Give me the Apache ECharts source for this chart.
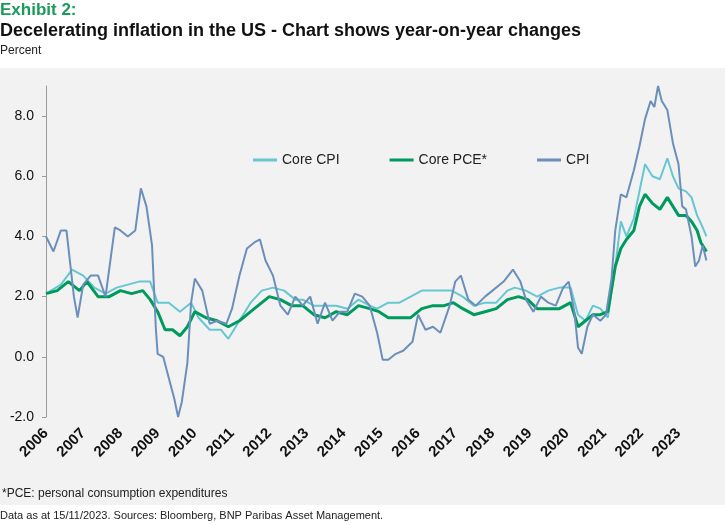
<!DOCTYPE html>
<html><head><meta charset="utf-8">
<script src="https://cdn.jsdelivr.net/npm/echarts@6/dist/echarts.min.js"></script>
<style>html,body{margin:0;padding:0;background:#fff}#c{width:725px;height:525px}</style>
</head><body><div id="c"></div>
<script>
const cpi = [[2006.0,4.0],[2006.2,3.5],[2006.4,4.2],[2006.55,4.2],[2006.75,2.0],[2006.85,1.3],[2007.0,2.4],[2007.2,2.7],[2007.4,2.7],[2007.6,2.0],[2007.85,4.3],[2008.0,4.2],[2008.2,4.0],[2008.4,4.2],[2008.55,5.6],[2008.7,5.0],[2008.85,3.7],[2008.95,1.0],[2009.0,0.1],[2009.15,0.0],[2009.3,-0.7],[2009.45,-1.4],[2009.55,-2.0],[2009.65,-1.5],[2009.8,-0.2],[2009.9,1.8],[2010.0,2.6],[2010.2,2.2],[2010.4,1.1],[2010.6,1.2],[2010.85,1.1],[2011.0,1.6],[2011.2,2.7],[2011.4,3.6],[2011.6,3.8],[2011.75,3.9],[2011.9,3.2],[2012.1,2.7],[2012.3,1.7],[2012.5,1.4],[2012.7,2.0],[2012.9,1.7],[2013.1,2.0],[2013.3,1.1],[2013.5,1.8],[2013.7,1.2],[2013.9,1.5],[2014.1,1.5],[2014.3,2.1],[2014.5,2.0],[2014.7,1.7],[2014.9,0.8],[2015.05,-0.1],[2015.2,-0.1],[2015.4,0.1],[2015.6,0.2],[2015.85,0.5],[2016.0,1.4],[2016.2,0.9],[2016.4,1.0],[2016.6,0.8],[2016.85,1.7],[2017.0,2.5],[2017.15,2.7],[2017.35,1.9],[2017.55,1.7],[2017.8,2.0],[2018.0,2.2],[2018.3,2.5],[2018.55,2.9],[2018.75,2.5],[2018.9,1.9],[2019.1,1.5],[2019.3,2.0],[2019.5,1.8],[2019.7,1.7],[2019.9,2.3],[2020.05,2.5],[2020.2,1.5],[2020.3,0.3],[2020.4,0.1],[2020.55,1.0],[2020.7,1.4],[2020.9,1.2],[2021.05,1.4],[2021.2,2.6],[2021.3,4.2],[2021.45,5.4],[2021.6,5.3],[2021.8,6.2],[2021.95,7.0],[2022.1,7.9],[2022.25,8.5],[2022.35,8.3],[2022.45,9.0],[2022.55,8.5],[2022.7,8.2],[2022.85,7.1],[2023.0,6.4],[2023.1,5.0],[2023.2,4.9],[2023.35,4.0],[2023.45,3.0],[2023.55,3.2],[2023.65,3.7],[2023.75,3.2]];
const coreCpi = [[2006.0,2.1],[2006.4,2.4],[2006.7,2.9],[2007.0,2.7],[2007.3,2.3],[2007.6,2.1],[2007.9,2.3],[2008.2,2.4],[2008.5,2.5],[2008.8,2.5],[2009.0,1.8],[2009.3,1.8],[2009.6,1.5],[2009.9,1.8],[2010.1,1.3],[2010.4,0.9],[2010.7,0.9],[2010.9,0.6],[2011.2,1.2],[2011.5,1.8],[2011.8,2.2],[2012.1,2.3],[2012.4,2.2],[2012.7,1.9],[2012.9,1.9],[2013.2,1.7],[2013.5,1.7],[2013.8,1.7],[2014.1,1.6],[2014.4,1.9],[2014.7,1.7],[2014.9,1.6],[2015.2,1.8],[2015.5,1.8],[2015.8,2.0],[2016.1,2.2],[2016.4,2.2],[2016.7,2.2],[2016.9,2.2],[2017.2,2.0],[2017.5,1.7],[2017.8,1.8],[2018.1,1.8],[2018.4,2.2],[2018.6,2.3],[2018.9,2.2],[2019.2,2.0],[2019.5,2.2],[2019.8,2.3],[2020.1,2.3],[2020.3,1.4],[2020.5,1.2],[2020.7,1.7],[2020.9,1.6],[2021.1,1.3],[2021.3,3.0],[2021.45,4.5],[2021.6,4.0],[2021.8,4.6],[2021.95,5.5],[2022.1,6.4],[2022.3,6.0],[2022.5,5.9],[2022.7,6.6],[2022.85,6.0],[2023.0,5.6],[2023.2,5.5],[2023.35,5.3],[2023.5,4.7],[2023.65,4.3],[2023.75,4.0]];
const corePce = [[2006.0,2.1],[2006.3,2.2],[2006.6,2.5],[2006.9,2.2],[2007.1,2.5],[2007.4,2.0],[2007.7,2.0],[2008.0,2.2],[2008.3,2.1],[2008.6,2.2],[2008.8,1.9],[2009.0,1.5],[2009.2,0.9],[2009.4,0.9],[2009.6,0.7],[2009.8,1.0],[2010.0,1.5],[2010.3,1.3],[2010.6,1.2],[2010.9,1.0],[2011.2,1.2],[2011.5,1.5],[2011.8,1.8],[2012.0,2.0],[2012.3,1.9],[2012.6,1.7],[2012.9,1.7],[2013.2,1.4],[2013.5,1.3],[2013.8,1.5],[2014.1,1.4],[2014.4,1.7],[2014.7,1.6],[2014.95,1.5],[2015.2,1.3],[2015.5,1.3],[2015.8,1.3],[2016.1,1.6],[2016.4,1.7],[2016.7,1.7],[2016.95,1.8],[2017.2,1.6],[2017.5,1.4],[2017.8,1.5],[2018.1,1.6],[2018.4,1.9],[2018.7,2.0],[2018.95,1.9],[2019.2,1.6],[2019.5,1.6],[2019.8,1.6],[2020.1,1.8],[2020.3,1.0],[2020.5,1.2],[2020.7,1.4],[2020.9,1.4],[2021.1,1.5],[2021.3,3.0],[2021.45,3.6],[2021.6,3.9],[2021.8,4.2],[2021.95,5.0],[2022.1,5.4],[2022.3,5.1],[2022.5,4.9],[2022.7,5.3],[2022.85,5.0],[2023.0,4.7],[2023.2,4.7],[2023.35,4.5],[2023.5,4.2],[2023.6,3.8],[2023.75,3.5]];
const seriesNames = ['Core CPI','Core PCE*','CPI'];
const ff = '"Liberation Sans Narrow","Liberation Sans",sans-serif';
const chart = echarts.init(document.getElementById('c'));
chart.setOption({
  backgroundColor:'#fff',
  graphic:[
    {type:'rect',shape:{x:0,y:68,width:725,height:437},style:{fill:'#f2f2f2'},z:-10},
    {type:'text',left:0,top:2,style:{text:'Exhibit 2:',font:'bold 17px '+ff,fill:'#1a9b5a'}},
    {type:'text',left:0,top:22,style:{text:'Decelerating inflation in the US - Chart shows year-on-year changes',font:'bold 18px '+ff,fill:'#111'}},
    {type:'text',left:0,top:45,style:{text:'Percent',font:'12px '+ff,fill:'#222'}},
    {type:'text',left:2,top:488,style:{text:'*PCE: personal consumption expenditures',font:'12px '+ff,fill:'#222'}},
    {type:'text',left:0,top:510,style:{text:'Data as at 15/11/2023. Sources: Bloomberg, BNP Paribas Asset Management.',font:'11px '+ff,fill:'#222'}}
  ],
  legend:{top:148,left:248,itemGap:50,icon:'rect',itemWidth:24,itemHeight:3,
    textStyle:{fontSize:14,fontFamily:ff,color:'#222'},data:seriesNames},
  grid:{left:46,right:13,top:86,bottom:108},
  xAxis:{type:'value',min:2006,max:2023.9,interval:1,
    axisLine:{show:false},axisTick:{show:false},splitLine:{show:false},
    axisLabel:{rotate:45,fontSize:15,fontWeight:'bold',color:'#111',fontFamily:ff,margin:14,
      formatter:v=>Number.isInteger(v)&&v<=2023?String(v):''}},
  yAxis:{type:'value',min:-2,max:9,interval:2,
    axisLine:{show:true,lineStyle:{color:'#999'}},axisTick:{show:true,length:4,lineStyle:{color:'#999'}},
    splitLine:{show:false},
    axisLabel:{fontSize:14,color:'#111',fontFamily:ff,margin:12,showMaxLabel:false,formatter:v=>v>8.5?'':v.toFixed(1)}},
  series:[
    {name:'Core CPI',type:'line',data:coreCpi,showSymbol:false,lineStyle:{width:2,color:'#66c7d2'},itemStyle:{color:'#66c7d2'}},
    {name:'Core PCE*',type:'line',data:corePce,showSymbol:false,lineStyle:{width:3,color:'#00995e'},itemStyle:{color:'#00995e'}},
    {name:'CPI',type:'line',data:cpi,showSymbol:false,lineStyle:{width:2,color:'#6b8fbb'},itemStyle:{color:'#6b8fbb'}}
  ]
});
</script></body></html>
